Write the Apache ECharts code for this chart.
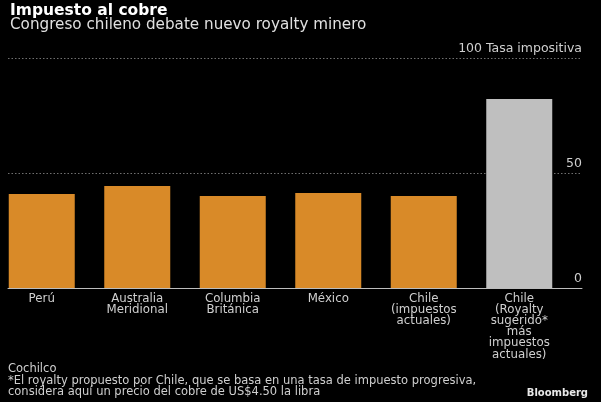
<!DOCTYPE html>
<html>
<head>
<meta charset="utf-8">
<script src="https://cdn.jsdelivr.net/npm/echarts@6/dist/echarts.min.js"></script>
<style>
html,body{margin:0;padding:0;background:#000;overflow:hidden;}
#wrap{position:relative;width:601px;height:402px;overflow:hidden;}
#c{position:absolute;left:-6px;top:0;width:607px;height:402px;}
</style>
</head>
<body>
<div id="wrap"><div id="c"></div></div>
<script>
const categories = [
  "Perú",
  "Australia\nMeridional",
  "Columbia\nBritánica",
  "México",
  "Chile\n(impuestos\nactuales)",
  "Chile\n(Royalty\nsugerido*\nmás\nimpuestos\nactuales)"
];
const taxRate = [40.9, 44.3, 40.0, 41.3, 40.0, 82.2];
const yTicks = [0, 50, 100];
const yUnit = "Tasa impositiva";

const FONT = "DejaVu Sans";
const ORANGE = "#d98a28";
const GRAY = "#bfbfbf";
const DX = 6; // container is shifted left by DX px

const chart = echarts.init(document.getElementById('c'), null, {renderer: 'canvas'});
chart.setOption({
  backgroundColor: '#000',
  animation: false,
  textStyle: {fontFamily: FONT},
  title: [
    {text: 'Impuesto al cobre', left: 10 + DX, top: 3, padding: 0,
     textStyle: {color: '#fff', fontSize: 15.5, fontWeight: 'bold', fontFamily: FONT}},
    {text: 'Congreso chileno debate nuevo royalty minero', left: 10 + DX, top: 18, padding: 0,
     textStyle: {color: '#e0e0e0', fontSize: 15.2, fontWeight: 'normal', fontFamily: FONT}},
    {text: 'Cochilco\n*El royalty propuesto por Chile, que se basa en una tasa de impuesto progresiva,\nconsidera aquí un precio del cobre de US$4.50 la libra',
     left: 8 + DX, top: 363, padding: 0,
     textStyle: {color: '#cfcfcf', fontSize: 11.5, fontWeight: 'normal', lineHeight: 11.8, fontFamily: FONT}},
    {text: 'Bloomberg', right: 13, top: 388, padding: 0,
     textStyle: {color: '#e8e8e8', fontSize: 10, fontWeight: 'bold', fontFamily: FONT}}
  ],
  grid: [
    {left: 0, width: 573, top: 58, bottom: 114, containLabel: false},
    {left: 8 + DX, right: 19, top: 58, bottom: 114, containLabel: false}
  ],
  xAxis: [
    {type: 'category', gridIndex: 0, data: categories, boundaryGap: true,
     axisLine: {show: false}, axisTick: {show: false},
     axisLabel: {interval: 0, color: '#cfcfcf', fontSize: 11.8, lineHeight: 11.2, margin: 5, fontFamily: FONT}},
    {type: 'value', gridIndex: 1, min: 0, max: 1,
     axisLine: {show: true, onZero: false, lineStyle: {color: '#bdbdbd', width: 1}},
     axisTick: {show: false}, axisLabel: {show: false}, splitLine: {show: false}}
  ],
  yAxis: [
    {type: 'value', gridIndex: 0, min: 0, max: 100, show: false, splitLine: {show: false}},
    {type: 'value', gridIndex: 1, min: 0, max: 100, interval: 50, position: 'right',
     axisLine: {show: false}, axisTick: {show: false},
     axisLabel: {inside: true, margin: 0, color: '#cfcfcf', fontSize: 12.5, verticalAlign: 'bottom',
       padding: [0, 0, 3, 0], fontFamily: FONT,
       formatter: v => yTicks.indexOf(v) === yTicks.length - 1 ? v + ' ' + yUnit : String(v)},
     splitLine: {show: true, lineStyle: {color: '#707070', type: [1.5, 2], width: 1}}}
  ],
  series: [
    {type: 'bar', xAxisIndex: 0, yAxisIndex: 0, data: taxRate, barWidth: 66,
     itemStyle: {color: p => p.dataIndex === taxRate.length - 1 ? GRAY : ORANGE}}
  ]
});
</script>
</body>
</html>
